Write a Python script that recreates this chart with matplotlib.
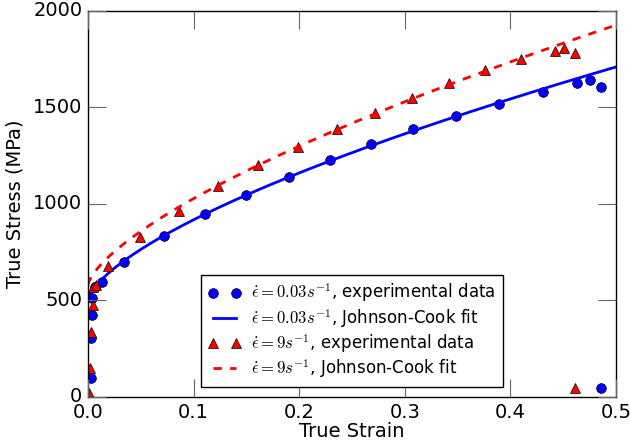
import numpy as np
import matplotlib
matplotlib.use("Agg")
import matplotlib.pyplot as plt

plt.style.use('classic')

# experimental data, 0.03/s
strain_slow = [0.0025, 0.003, 0.004, 0.0035, 0.0066, 0.0135, 0.034, 0.072, 0.111, 0.150,
               0.190, 0.229, 0.268, 0.308, 0.348, 0.389, 0.431, 0.463, 0.475, 0.486, 0.486]
stress_slow = [100, 304, 425, 511, 572, 597, 701, 834, 947, 1048,
               1141, 1228, 1309, 1387, 1454, 1518, 1580, 1629, 1643, 1608, 45]

# experimental data, 9/s
strain_fast = [0.001, 0.002, 0.0026, 0.005, 0.0045, 0.008, 0.019, 0.049, 0.086, 0.123,
               0.161, 0.199, 0.236, 0.272, 0.307, 0.342, 0.376, 0.410, 0.442, 0.451,
               0.461, 0.461]
stress_fast = [19, 149, 338, 477, 571, 580, 679, 827, 964, 1093,
               1200, 1297, 1387, 1470, 1551, 1629, 1694, 1750, 1794, 1807,
               1781, 45]

# Johnson-Cook fit parameters: sigma = A + B*eps^n
A_slow, B_slow, n_slow = 500.0, 1912.0, 0.66
A_fast, B_fast, n_fast = 580.0, 2164.0, 0.684

eps = np.linspace(0, 0.5, 500)

fig = plt.figure(figsize=(6.3, 4.47), dpi=100, facecolor='white')
ax = fig.add_axes([0.1397, 0.1119, 0.8381, 0.8635])

ax.plot(strain_slow, stress_slow, 'bo', markersize=7, label=r'$\dot{\epsilon}=0.03s^{-1}$, experimental data')
ax.plot(eps, A_slow + B_slow*eps**n_slow, 'b-', linewidth=2, label=r'$\dot{\epsilon}=0.03s^{-1}$, Johnson-Cook fit')
ax.plot(strain_fast, stress_fast, 'r^', markersize=7, label=r'$\dot{\epsilon}=9s^{-1}$, experimental data')
ax.plot(eps, A_fast + B_fast*eps**n_fast, 'r--', linewidth=2, label=r'$\dot{\epsilon}=9s^{-1}$, Johnson-Cook fit')

ax.set_xlim(0, 0.5)
ax.set_ylim(0, 2000)
ax.set_xticks([0.0, 0.1, 0.2, 0.3, 0.4, 0.5])
ax.set_yticks([0, 500, 1000, 1500, 2000])
ax.tick_params(labelsize=14, length=13, width=0.8, color='0.4', pad=4)
ax.set_xlabel('True Strain', fontsize=14, labelpad=0)
ax.set_ylabel('True Stress (MPa)', fontsize=14, labelpad=6)

ax.legend(loc='lower center', fontsize=12, numpoints=2, labelspacing=0.15,
          borderaxespad=0.6, handletextpad=0.6)

plt.savefig('out.png', dpi=100, facecolor='white')
